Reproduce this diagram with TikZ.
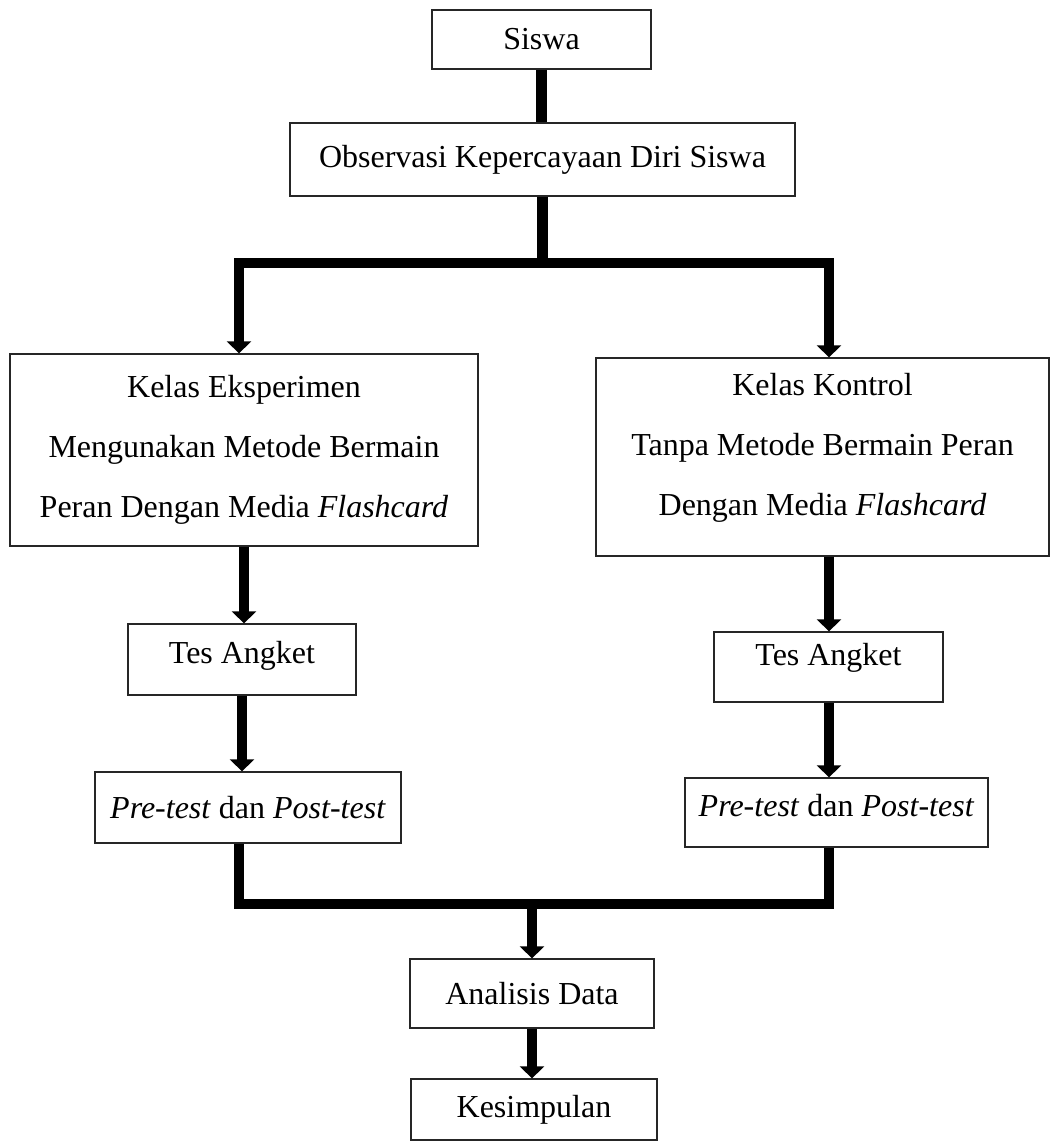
\documentclass[tikz,border=0pt]{standalone}
\usepackage{fontspec}
\setmainfont{Liberation Serif}
\usetikzlibrary{arrows.meta}
\begin{document}
\begin{tikzpicture}[x=1pt,y=-1pt,
  box/.style={draw=black!85, line width=1.3pt, fill=white, inner sep=0pt, align=center,
              font=\fontsize{32}{60}\selectfont},
  conn/.style={line width=10.5pt, line join=miter},
  >={Triangle[length=12pt,width=24pt]}]
\useasboundingbox (0,0) rectangle (1052,1145);
% boxes (centre, width, height from the reference)
\node[box, minimum width=219pt, minimum height=59pt] (siswa) at (541.5,39.5) {Siswa};
\node[box, minimum width=505pt, minimum height=73pt] (obs) at (542.5,159.5) {Observasi Kepercayaan Diri Siswa};
\node[box, minimum width=468pt, minimum height=192pt] (ke) at (244,450)
  {Kelas Eksperimen\\Mengunakan Metode Bermain\\Peran Dengan Media \textit{Flashcard}};
\node[box, minimum width=453pt, minimum height=198pt, text depth=25pt] (kk) at (822.5,457)
  {Kelas Kontrol\\Tanpa Metode Bermain Peran\\Dengan Media \textit{Flashcard}};
\node[box, minimum width=228pt, minimum height=71pt, text depth=15pt] (ta1) at (242,659.5) {Tes Angket};
\node[box, minimum width=229pt, minimum height=70pt, text depth=25pt] (ta2) at (828.5,667) {Tes Angket};
\node[box, minimum width=306pt, minimum height=71pt] (pre1) at (248,807.5) {\textit{Pre-test} dan \textit{Post-test}};
\node[box, minimum width=303pt, minimum height=69pt, text depth=14pt] (pre2) at (836.5,812.5) {\textit{Pre-test} dan \textit{Post-test}};
\node[box, minimum width=244pt, minimum height=69pt] (ad) at (532,993.5) {Analisis Data};
\node[box, minimum width=246pt, minimum height=61pt] (ks) at (534,1109.5) {Kesimpulan};
% junction points
\coordinate (tl) at (239,263);
\coordinate (tr) at (829,263);
\coordinate (bl) at (239,904);
\coordinate (br) at (829,904);
\coordinate (bm) at (532,904);
% connectors
\draw[conn] (siswa.south) -- (siswa.south |- obs.north);
\draw[conn] (obs.south) -- (obs.south |- tl);
\draw[conn,<->] (tl |- ke.north) -- (tl) -- (tr) -- (tr |- kk.north);
\draw[conn,->] (ke.south) -- (ke.south |- ta1.north);
\draw[conn,->] (ta1.south) -- (ta1.south |- pre1.north);
\draw[conn,->] (kk.south -| tr) -- (tr |- ta2.north);
\draw[conn,->] (ta2.south -| tr) -- (tr |- pre2.north);
\draw[conn] (pre1.south -| bl) -- (bl) -- (br) -- (pre2.south -| br);
\draw[conn,->] (bm) -- (ad.north);
\draw[conn,->] (ad.south) -- (ad.south |- ks.north);
\end{tikzpicture}
\end{document}
